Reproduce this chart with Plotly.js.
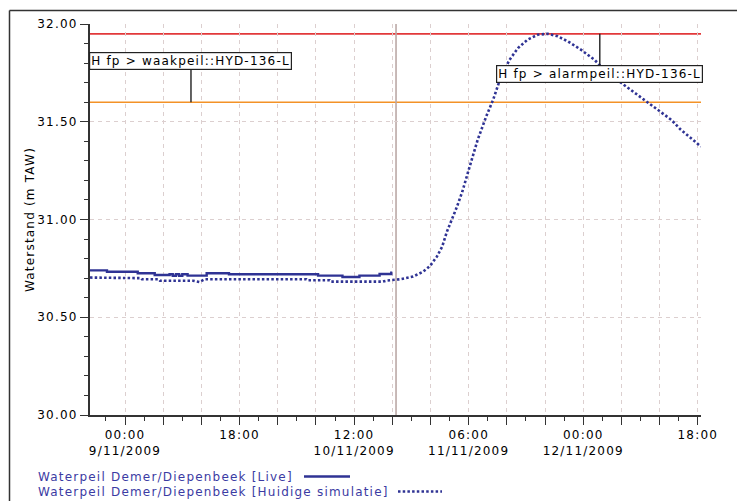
<!DOCTYPE html>
<html>
<head>
<meta charset="utf-8">
<script src="https://cdn.plot.ly/plotly-3.0.1.min.js"></script>
<style>
  html, body { margin: 0; padding: 0; background: #fff; }
  #chart { width: 737px; height: 501px; }
  svg text { letter-spacing: 1.2px; }
</style>
</head>
<body>
<div id="chart"></div>
<script>
// ---- data ----
const liveTimes = [
  '2009-11-08 18:30', '2009-11-08 21:10', '2009-11-09 02:00', '2009-11-09 04:40',
  '2009-11-09 07:00', '2009-11-09 07:30', '2009-11-09 08:00', '2009-11-09 08:30',
  '2009-11-09 09:00', '2009-11-09 09:50', '2009-11-09 12:50', '2009-11-09 16:20',
  '2009-11-10 06:20', '2009-11-10 10:10', '2009-11-10 12:50', '2009-11-10 16:00',
  '2009-11-10 17:50', '2009-11-10 18:00'
];
const liveValues = [
  30.740, 30.733, 30.725, 30.716,
  30.720, 30.712, 30.720, 30.712,
  30.720, 30.713, 30.725, 30.720,
  30.713, 30.706, 30.713, 30.721,
  30.728, 30.728
];

const simTimes = [
  '2009-11-08 18:30', '2009-11-08 23:00', '2009-11-08 23:30', '2009-11-09 02:30',
  '2009-11-09 02:40', '2009-11-09 05:20', '2009-11-09 05:30', '2009-11-09 10:40',
  '2009-11-09 11:40', '2009-11-09 12:30', '2009-11-10 04:30', '2009-11-10 04:40',
  '2009-11-10 08:10', '2009-11-10 08:20', '2009-11-10 16:30', '2009-11-10 17:10',
  '2009-11-10 19:10', '2009-11-10 21:15', '2009-11-10 22:50', '2009-11-10 23:55',
  '2009-11-11 01:00', '2009-11-11 01:50', '2009-11-11 02:35', '2009-11-11 03:30',
  '2009-11-11 04:10', '2009-11-11 05:00', '2009-11-11 05:45', '2009-11-11 06:20',
  '2009-11-11 07:25', '2009-11-11 08:45', '2009-11-11 09:50', '2009-11-11 11:05',
  '2009-11-11 12:25', '2009-11-11 13:45', '2009-11-11 15:15', '2009-11-11 16:50',
  '2009-11-11 18:25', '2009-11-11 20:00', '2009-11-11 21:35', '2009-11-11 23:40',
  '2009-11-12 01:45', '2009-11-12 03:50', '2009-11-12 06:00', '2009-11-12 08:05',
  '2009-11-12 09:35', '2009-11-12 11:45', '2009-11-12 13:50', '2009-11-12 15:20',
  '2009-11-12 16:55', '2009-11-12 18:30'
];
const simValues = [
  30.703, 30.703, 30.700, 30.700,
  30.694, 30.694, 30.687, 30.687,
  30.680, 30.694, 30.694, 30.689,
  30.689, 30.682, 30.682, 30.688,
  30.694, 30.708, 30.733, 30.762,
  30.810, 30.861, 30.938, 31.007,
  31.066, 31.143, 31.220, 31.290,
  31.408, 31.527, 31.612, 31.732,
  31.817, 31.877, 31.920, 31.945,
  31.950, 31.937, 31.911, 31.868,
  31.817, 31.749, 31.698, 31.647,
  31.612, 31.561, 31.510, 31.459,
  31.416, 31.373
];

const alarmLevel = 31.95;   // alarmpeil
const waakLevel = 31.60;    // waakpeil
const nowTime = '2009-11-10 18:35';
const waakLabel = 'H fp &gt; waakpeil::HYD-136-L';
const alarmLabel = 'H fp &gt; alarmpeil::HYD-136-L';
const waakLabelTime = '2009-11-09 10:22';
const alarmLabelTime = '2009-11-12 02:36';

const seriesNames = [
  'Waterpeil Demer/Diepenbeek [Live]',
  'Waterpeil Demer/Diepenbeek [Huidige simulatie]'
];

const xTickVals = [
  '2009-11-09 00:00', '2009-11-09 06:00', '2009-11-09 12:00', '2009-11-09 18:00',
  '2009-11-10 00:00', '2009-11-10 06:00', '2009-11-10 12:00', '2009-11-10 18:00',
  '2009-11-11 00:00', '2009-11-11 06:00', '2009-11-11 12:00', '2009-11-11 18:00',
  '2009-11-12 00:00', '2009-11-12 06:00', '2009-11-12 12:00', '2009-11-12 18:00'
];
const xTickText = [
  '00:00<br>9/11/2009', '', '', '18:00',
  '', '', '12:00<br>10/11/2009', '',
  '', '06:00<br>11/11/2009', '', '',
  '00:00<br>12/11/2009', '', '', '18:00'
];

// ---- styles ----
const navy = '#2f3394';
const legendText = '#3b3ba3';
const gridCol = '#dccfcf';
const axisCol = '#333333';
const FONT = 'DejaVu Sans, Verdana, sans-serif';

const traces = [
  {
    x: liveTimes, y: liveValues, type: 'scatter', mode: 'lines',
    name: seriesNames[0],
    line: { color: navy, width: 2.4, shape: 'hv' },
    hoverinfo: 'skip'
  },
  {
    x: simTimes, y: simValues, type: 'scatter', mode: 'lines',
    name: seriesNames[1],
    line: { color: navy, width: 2.6, dash: '2.5px,2.2px' },
    hoverinfo: 'skip'
  }
];

// plot-area pixel mapping helpers for paper coordinates (legend/frame decoration)
const L = 90, R = 36, T = 24, B = 86, W = 737, H = 501;
const pw = W - L - R, ph = H - T - B;
const px = v => (v - L) / pw;
const py = v => (H - B - v) / ph;

const layout = {
  width: W, height: H,
  margin: { l: L, r: R, t: T, b: B, pad: 0 },
  paper_bgcolor: '#ffffff',
  plot_bgcolor: '#ffffff',
  showlegend: false,
  font: { family: FONT, size: 12, color: '#000' },
  xaxis: {
    type: 'date',
    range: ['2009-11-08 18:30', '2009-11-12 18:30'],
    tickmode: 'array',
    tickvals: xTickVals,
    ticktext: xTickText,
    ticks: 'outside', ticklen: 8, tickwidth: 1, tickcolor: axisCol,
    showline: true, linecolor: axisCol, linewidth: 2,
    showgrid: true, gridcolor: gridCol, gridwidth: 1, griddash: '4px,4px',
    zeroline: false,
    minor: { dtick: 3 * 3600 * 1000, tick0: '2009-11-09 00:00', ticks: 'outside', ticklen: 4, tickcolor: axisCol, tickwidth: 1, showgrid: false },
    tickfont: { family: FONT, size: 12, color: '#000' },
    fixedrange: true
  },
  yaxis: {
    range: [30, 32],
    tickmode: 'linear', tick0: 30, dtick: 0.5,
    tickformat: '.2f',
    ticks: 'outside', ticklen: 8, tickwidth: 1, tickcolor: axisCol,
    showline: true, linecolor: axisCol, linewidth: 2,
    showgrid: true, gridcolor: gridCol, gridwidth: 1, griddash: '4px,4px',
    zeroline: false,
    minor: { dtick: 0.1, ticks: 'outside', ticklen: 4, tickcolor: axisCol, tickwidth: 1, showgrid: false },
    tickfont: { family: FONT, size: 12, color: '#000' },
    title: { text: 'Waterstand (m TAW)', font: { family: FONT, size: 12, color: '#000' }, standoff: 0 },
    fixedrange: true
  },
  shapes: [
    // alarm & waak thresholds
    { type: 'line', xref: 'paper', x0: 0, x1: 1, yref: 'y', y0: alarmLevel, y1: alarmLevel,
      line: { color: '#e2383a', width: 1.8 }, layer: 'below' },
    { type: 'line', xref: 'paper', x0: 0, x1: 1, yref: 'y', y0: waakLevel, y1: waakLevel,
      line: { color: '#f39227', width: 1.6 }, layer: 'below' },
    // now line
    { type: 'line', xref: 'x', x0: nowTime, x1: nowTime, yref: 'paper', y0: 0, y1: 1,
      line: { color: '#bba9a6', width: 1.6 }, layer: 'below' },
    // outer frame (left & top)
    { type: 'line', xref: 'paper', yref: 'paper', x0: px(9.5), x1: px(9.5), y0: py(520), y1: py(10.5),
      line: { color: '#333', width: 1.5 } },
    { type: 'line', xref: 'paper', yref: 'paper', x0: px(9.5), x1: px(760), y0: py(10.5), y1: py(10.5),
      line: { color: '#333', width: 1.5 } },
    // legend samples
    { type: 'line', xref: 'paper', yref: 'paper', x0: px(304), x1: px(350), y0: py(476.5), y1: py(476.5),
      line: { color: navy, width: 2.4 } },
    { type: 'line', xref: 'paper', yref: 'paper', x0: px(398), x1: px(442), y0: py(491.5), y1: py(491.5),
      line: { color: navy, width: 2.4, dash: '2.5px,2.2px' } }
  ],
  annotations: [
    { x: waakLabelTime, y: waakLevel, xref: 'x', yref: 'y', text: waakLabel,
      showarrow: true, arrowhead: 0, arrowwidth: 1.4, arrowcolor: '#222', ax: 0, ay: -41, standoff: 0,
      bgcolor: '#fff', bordercolor: '#222', borderwidth: 1.2, borderpad: 1,
      font: { family: FONT, size: 12, color: '#000' } },
    { x: alarmLabelTime, y: alarmLevel, xref: 'x', yref: 'y', text: alarmLabel,
      showarrow: true, arrowhead: 0, arrowwidth: 1.4, arrowcolor: '#222', ax: 0, ay: 40, standoff: 0,
      bgcolor: '#fff', bordercolor: '#222', borderwidth: 1.2, borderpad: 1,
      font: { family: FONT, size: 12, color: '#000' } },
    { x: px(36), y: py(476.5), xref: 'paper', yref: 'paper', xanchor: 'left', yanchor: 'middle',
      text: seriesNames[0], showarrow: false,
      font: { family: FONT, size: 12, color: legendText } },
    { x: px(36), y: py(491.5), xref: 'paper', yref: 'paper', xanchor: 'left', yanchor: 'middle',
      text: seriesNames[1], showarrow: false,
      font: { family: FONT, size: 12, color: legendText } }
  ]
};

Plotly.newPlot('chart', traces, layout, { staticPlot: true, displayModeBar: false });
</script>
</body>
</html>
